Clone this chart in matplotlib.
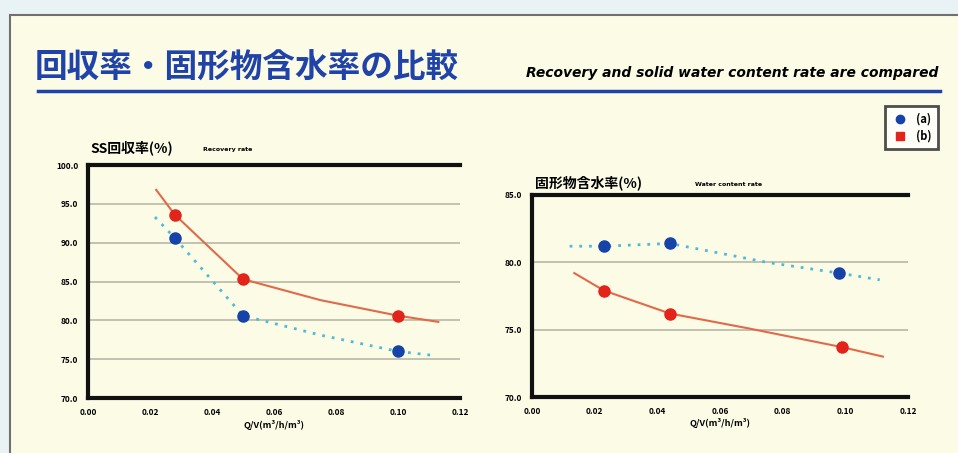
import matplotlib.pyplot as plt
from matplotlib.patches import Rectangle
from matplotlib.lines import Line2D

plt.rcParams['font.family'] = ['Noto Sans CJK JP', 'DejaVu Sans']

# --- データ ---
xticks = [0.00, 0.02, 0.04, 0.06, 0.08, 0.10, 0.12]
xtick_labels = ['0.00', '0.02', '0.04', '0.06', '0.08', '0.10', '0.12']

# SS回収率
rec_y_ticks = [70.0, 75.0, 80.0, 85.0, 90.0, 95.0, 100.0]
rec_x_a = [0.028, 0.050, 0.100]
rec_y_a = [90.6, 80.6, 76.0]
rec_x_b = [0.028, 0.050, 0.100]
rec_y_b = [93.6, 85.3, 80.6]
rec_trend_x_a = [0.0216, 0.028, 0.050, 0.075, 0.100, 0.111]
rec_trend_y_a = [93.3, 90.6, 80.6, 78.1, 76.0, 75.5]
rec_trend_x_b = [0.022, 0.028, 0.050, 0.075, 0.100, 0.113]
rec_trend_y_b = [96.8, 93.6, 85.3, 82.6, 80.6, 79.8]

# 固形物含水率
wat_y_ticks = [70.0, 75.0, 80.0, 85.0]
wat_x_a = [0.023, 0.044, 0.098]
wat_y_a = [81.2, 81.4, 79.2]
wat_x_b = [0.023, 0.044, 0.099]
wat_y_b = [77.9, 76.2, 73.7]
wat_trend_x_a = [0.012, 0.023, 0.044, 0.075, 0.098, 0.111]
wat_trend_y_a = [81.2, 81.2, 81.4, 80.0, 79.2, 78.7]
wat_trend_x_b = [0.0135, 0.023, 0.044, 0.069, 0.099, 0.112]
wat_trend_y_b = [79.2, 77.9, 76.2, 75.1, 73.7, 73.0]

legend_labels = ['(a)', '(b)']

BG = '#fcfbe6'
TITLE_BLUE = '#1f43a8'
LINE_RED = '#e06a4a'
LINE_BLUE = '#4cbbd8'
DOT_RED = '#e2241a'
DOT_BLUE = '#1643a8'

fig = plt.figure(figsize=(9.58, 4.53), dpi=100)
fig.patch.set_facecolor('#e9f3f6')
fig.patches.append(Rectangle((10 / 958, -0.01), 1, 1.01 - 15 / 453, transform=fig.transFigure,
                             facecolor=BG, edgecolor='#707070', linewidth=1.5, zorder=-5))

fig.text(35 / 958, 1 - 68 / 453, '回収率・固形物含水率の比較', color=TITLE_BLUE,
         fontsize=23.5, fontweight='bold', va='center', ha='left')
fig.text(938 / 958, 1 - 73 / 453, 'Recovery and solid water content rate are compared',
         fontsize=10, fontweight='bold', style='italic', va='center', ha='right',
         family='DejaVu Sans')
fig.add_artist(Line2D([38 / 958, 940 / 958], [1 - 91 / 453, 1 - 91 / 453],
                      color=TITLE_BLUE, linewidth=2.5))


def style_axes(ax, yticks, grid_vals):
    ax.set_facecolor(BG)
    ax.set_xlim(0, 0.12)
    ax.set_ylim(yticks[0], yticks[-1])
    ax.set_xticks(xticks)
    ax.set_xticklabels(xtick_labels)
    ax.set_yticks(yticks)
    ax.set_yticklabels(['%.1f' % v for v in yticks])
    ax.tick_params(length=0, labelsize=6, pad=7)
    for lab in ax.get_xticklabels() + ax.get_yticklabels():
        lab.set_fontweight('bold')
    for g in grid_vals:
        ax.axhline(g, color='#b8b8a8', linewidth=1.2, zorder=1)
    for side in ['left', 'bottom', 'top']:
        ax.spines[side].set_linewidth(3)
        ax.spines[side].set_color('#111111')
    ax.spines['right'].set_visible(False)
    ax.set_xlabel('Q/V(m³/h/m³)', fontsize=6.5, fontweight='bold', labelpad=2)


# 左: SS回収率
ax1 = fig.add_axes([88 / 958, 1 - 398 / 453, 372 / 958, 233 / 453])
style_axes(ax1, rec_y_ticks, rec_y_ticks[1:-1])
ax1.plot(rec_trend_x_b, rec_trend_y_b, color=LINE_RED, linewidth=1.5, zorder=2)
ax1.plot(rec_trend_x_a, rec_trend_y_a, color=LINE_BLUE, linewidth=2, linestyle=(0, (1, 2.5)), zorder=2)
ax1.plot(rec_x_b, rec_y_b, 'o', color=DOT_RED, markersize=8, zorder=3)
ax1.plot(rec_x_a, rec_y_a, 'o', color=DOT_BLUE, markersize=8, zorder=3)
fig.text(90 / 958, 1 - 148 / 453, 'SS回収率(%)', fontsize=10, fontweight='bold', va='center')
fig.text(203 / 958, 1 - 150 / 453, 'Recovery rate', fontsize=4.5, fontweight='bold',
         va='center', family='DejaVu Sans')

# 右: 固形物含水率
ax2 = fig.add_axes([532 / 958, 1 - 397 / 453, 376 / 958, 202 / 453])
style_axes(ax2, wat_y_ticks, wat_y_ticks[1:-1])
ax2.plot(wat_trend_x_b, wat_trend_y_b, color=LINE_RED, linewidth=1.5, zorder=2)
ax2.plot(wat_trend_x_a, wat_trend_y_a, color=LINE_BLUE, linewidth=2, linestyle=(0, (1, 2.5)), zorder=2)
ax2.plot(wat_x_b, wat_y_b, 'o', color=DOT_RED, markersize=8, zorder=3)
ax2.plot(wat_x_a, wat_y_a, 'o', color=DOT_BLUE, markersize=8, zorder=3)
fig.text(535 / 958, 1 - 183 / 453, '固形物含水率(%)', fontsize=10, fontweight='bold', va='center')
fig.text(695 / 958, 1 - 184 / 453, 'Water content rate', fontsize=4.5, fontweight='bold',
         va='center', family='DejaVu Sans')

handles = [Line2D([], [], marker='o', linestyle='none', color=DOT_BLUE, markersize=6),
           Line2D([], [], marker='s', linestyle='none', color=DOT_RED, markersize=6)]
leg = fig.legend(handles, legend_labels, loc='upper right', bbox_to_anchor=(938 / 958, 1 - 106 / 453),
                 prop={'size': 8, 'weight': 'bold'}, handletextpad=0.6, borderpad=0.6,
                 labelspacing=0.35, handlelength=1.6, fancybox=False, borderaxespad=0)
leg.get_frame().set_edgecolor('#222222')
leg.get_frame().set_linewidth(2)
leg.get_frame().set_facecolor('white')

fig.savefig('out.png', dpi=100, facecolor=fig.get_facecolor())
